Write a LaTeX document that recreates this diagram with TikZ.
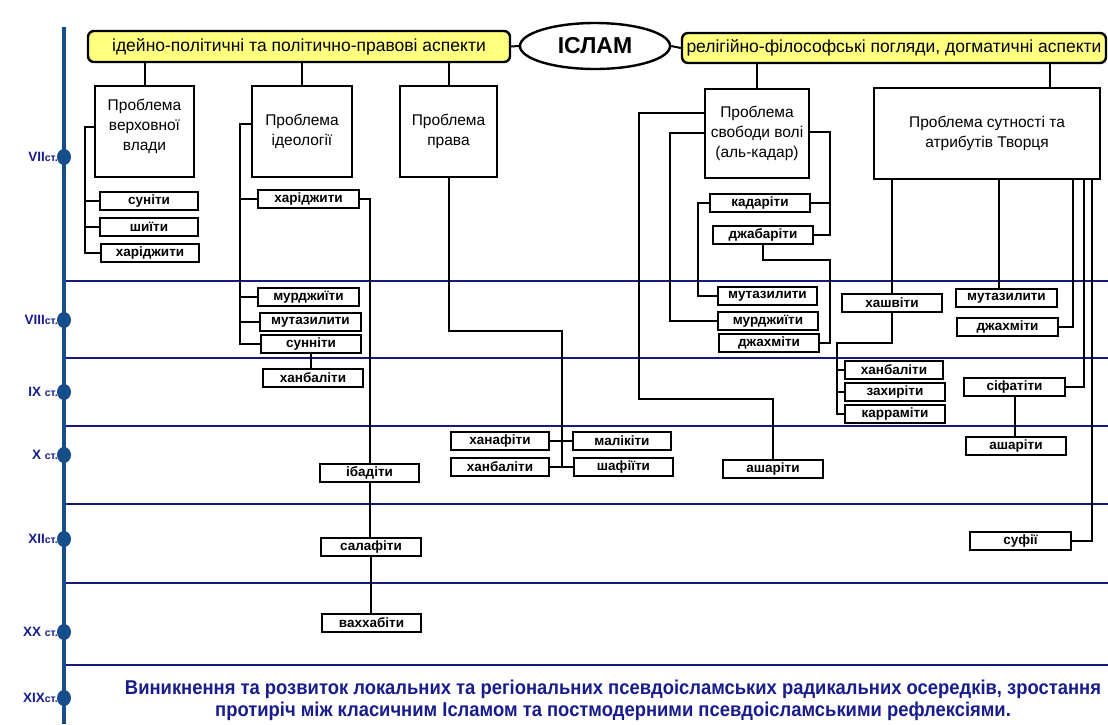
\documentclass[tikz,border=0pt]{standalone}
\usepackage{fontspec}
\setmainfont{Liberation Sans}
\newfontfamily\narrowfont[FakeStretch=0.92]{Liberation Sans}
\usetikzlibrary{shapes.geometric}
\definecolor{tlblue}{RGB}{22,78,140}
\definecolor{navyline}{RGB}{20,24,130}
\definecolor{navytext}{RGB}{24,28,140}
\definecolor{hdryellow}{RGB}{255,255,128}
\begin{document}
\begin{tikzpicture}[x=1pt,y=-1pt,
  sbox/.style={draw=black, line width=2.2pt, fill=white, inner sep=0pt, minimum height=18pt,
    font=\bfseries\fontsize{13.5}{13.5}\selectfont},
  pbox/.style={draw=black, line width=2.2pt, fill=white, inner sep=0pt, align=center,
    font=\fontsize{15.5}{20}\selectfont},
  hdr/.style={draw=black, line width=2.4pt, fill=hdryellow, rounded corners=6pt, inner sep=0pt,
    font=\fontsize{17.5}{17.5}\selectfont},
  conn/.style={draw=black, line width=2pt},
  hline/.style={draw=navyline, line width=2pt},
  tlabel/.style={text=navytext, font=\bfseries\fontsize{13.5}{13.5}\selectfont, anchor=east, inner sep=0pt},
  dotm/.style={fill=tlblue}
]
\useasboundingbox (0,0) rectangle (1108,724);
\fill[white] (0,0) rectangle (1108,724);

% horizontal period lines
\foreach \yy in {281,358,426,504,583,665} \draw[hline] (64,\yy) -- (1108,\yy);

% timeline
\draw[line width=4.8pt, tlblue] (64,27) -- (64,724);
\foreach \yy in {157,320,392,455,539,632,698}
  \fill[dotm] (64,\yy) ellipse [x radius=7pt, y radius=8pt];
\newcommand\stt{{\fontsize{10.5}{10.5}\selectfont ст.}}
\node[tlabel] (l7)  at (58,157) {VII\stt};
\node[tlabel] (l8)  at (58,320) {VIII\stt};
\node[tlabel] (l9)  at (58,392) {IX \stt};
\node[tlabel] (l10) at (58,455) {X \stt};
\node[tlabel] (l12) at (58,539) {XII\stt};
\node[tlabel] (l20) at (58,632) {XX \stt};
\node[tlabel] (l19) at (58,698) {XIX\stt};

% header
\node[hdr, minimum width=422pt, minimum height=31pt] (hl) at (299,46.5) {ідейно-політичні та політично-правові аспекти};
\node[draw=black, line width=2.4pt, ellipse, minimum width=150pt, minimum height=46pt, inner sep=0pt,
      font=\bfseries\fontsize{23}{23}\selectfont] (islam) at (595,46) {ІСЛАМ};
\node[hdr, minimum width=424pt, minimum height=30pt] (hr) at (894,48) {релігійно-філософські погляди, догматичні аспекти};
\draw[conn] (hl.east) -- (islam.west);
\draw[conn] (islam.east) -- (hr.west);

% problem boxes
\node[pbox, minimum width=99pt, minimum height=91pt] (p1) at (144.5,131.5) {Проблема\\верховної\\влади\\[-6pt]};
\node[pbox, minimum width=100pt, minimum height=91pt] (p2) at (302,131.5) {Проблема\\ідеології};
\node[pbox, minimum width=97pt, minimum height=91pt] (p3) at (448.5,131.5) {Проблема\\права};
\node[pbox, minimum width=104pt, minimum height=89pt] (p4) at (757,133.5) {Проблема\\свободи волі\\(аль-кадар)};
\node[pbox, minimum width=226pt, minimum height=91pt] (p5) at (987,133.5) {Проблема сутності та\\атрибутів Творця};
\coordinate (hx5) at (1050,0);
\draw[conn] (p1.north) -- (p1.north |- hl.south);
\draw[conn] (p2.north) -- (p2.north |- hl.south);
\draw[conn] (p3.north) -- (p3.north |- hl.south);
\draw[conn] (p4.north) -- (p4.north |- hr.south);
\draw[conn] (p5.north -| hx5) -- (hr.south -| hx5);

% group 1
\node[sbox, minimum width=98pt] (a1) at (149,201) {суніти};
\node[sbox, minimum width=98pt] (a2) at (149,227) {шиїти};
\node[sbox, minimum width=98pt] (a3) at (150,253) {харіджити};
\draw[conn] ([yshift=4.5pt]p1.west) -- (85,127) |- (a3.west);
\draw[conn] (a1.west) -- (85,201);
\draw[conn] (a2.west) -- (85,227);

% group 2
\node[sbox, minimum width=101pt] (b1) at (308.5,199) {харіджити};
\node[sbox, minimum width=101pt] (b2) at (308.5,297) {мурджиїти};
\node[sbox, minimum width=101pt] (b3) at (310.5,322) {мутазилити};
\node[sbox, minimum width=100pt] (b4) at (311,344) {сунніти};
\node[sbox, minimum width=100pt] (b5) at (313,378) {ханбаліти};
\node[sbox, minimum width=99pt] (c1) at (369.5,473) {ібадіти};
\node[sbox, minimum width=100pt] (c2) at (371,547) {салафіти};
\node[sbox, minimum width=99pt] (c3) at (371.5,623) {ваххабіти};
\draw[conn] ([yshift=7.5pt]p2.west) -- (240,124) |- (b4.west);
\draw[conn] (b1.west) -- (240,199);
\draw[conn] (b2.west) -- (240,297);
\draw[conn] (b3.west) -- (240,322);
\draw[conn] (b4.south) -- (b4.south |- b5.north);
\draw[conn] (b1.east) -| (c1.north);
\draw[conn] (c1.south) -- (c1.south |- c2.north);
\draw[conn] (c2.south) -- (c2.south |- c3.north);

% group 3
\node[sbox, minimum width=98pt] (d1) at (500,441) {ханафіти};
\node[sbox, minimum width=98pt] (d2) at (622,441) {малікіти};
\node[sbox, minimum width=98pt] (d3) at (500,467) {ханбаліти};
\node[sbox, minimum width=99pt] (d4) at (623.5,467) {шафіїти};
\draw[conn] (p3.south) -- (448.5,331) -- (562,331) -- (562,467);
\draw[conn] (d1.east) -- (d2.west);
\draw[conn] (d3.east) -- (d4.west);

% group 4
\node[sbox, minimum width=100pt] (e1) at (760,203) {кадаріти};
\node[sbox, minimum width=100pt] (e2) at (763,235) {джабаріти};
\node[sbox, minimum width=99pt] (e3) at (767.5,296) {мутазилити};
\node[sbox, minimum width=100pt] (e4) at (768,321) {мурджиїти};
\node[sbox, minimum width=100pt] (e5) at (769,343) {джахміти};
\node[sbox, minimum width=100pt] (e6) at (773,469) {ашаріти};
\draw[conn] ([yshift=20.5pt]p4.west) -- (639,113) -- (639,399) -| (e6.north);
\draw[conn] ([yshift=0.5pt]p4.west) -- (670,133) |- (e4.west);
\draw[conn] ([yshift=1.5pt]p4.east) -- (830,132) |- (e2.east);
\draw[conn] (e1.east) -- (830,203);
\draw[conn] (e1.west) -- (698,203) |- (e3.west);
\draw[conn] (e2.south) |- (830,260) |- (e5.east);

% group 5
\node[sbox, minimum width=100pt] (f0) at (892,303) {хашвіти};
\node[sbox, minimum width=98pt] (f1) at (894,370) {ханбаліти};
\node[sbox, minimum width=100pt] (f2) at (895,392) {захиріти};
\node[sbox, minimum width=100pt] (f3) at (895,414) {карраміти};
\node[sbox, minimum width=101pt] (g1) at (1006.5,298) {мутазилити};
\node[sbox, minimum width=101pt] (g2) at (1007.5,327) {джахміти};
\node[sbox, minimum width=101pt] (g3) at (1014.5,387) {сіфатіти};
\node[sbox, minimum width=100pt] (g4) at (1016,446) {ашаріти};
\node[sbox, minimum width=101pt] (g5) at (1020.5,541) {суфії};
\coordinate (gx1) at (999,0);
\coordinate (gx2) at (1073,0);
\coordinate (gx3) at (1084,0);
\coordinate (gx4) at (1092,0);
\draw[conn] (p5.south -| f0.north) -- (f0.north);
\draw[conn] (f0.south) |- (837,343) |- (f3.west);
\draw[conn] (f1.west) -- (837,370);
\draw[conn] (f2.west) -- (837,392);
\draw[conn] (p5.south -| gx1) -- (g1.north -| gx1);
\draw[conn] (p5.south -| gx2) |- (g2.east);
\draw[conn] (p5.south -| gx3) |- (g3.east);
\draw[conn] (p5.south -| gx4) |- (g5.east);
\draw[conn] (g3.south) -- (g3.south |- g4.north);

% bottom text
\node[text=navytext, align=center, inner sep=0pt, font=\narrowfont\bfseries\fontsize{20}{22}\selectfont] (bt) at (613,700)
  {Виникнення та розвиток локальних та регіональних псевдоісламських радикальних осередків, зростання\\
   протиріч між класичним Ісламом та постмодерними псевдоісламськими рефлексіями.};
\end{tikzpicture}
\end{document}
